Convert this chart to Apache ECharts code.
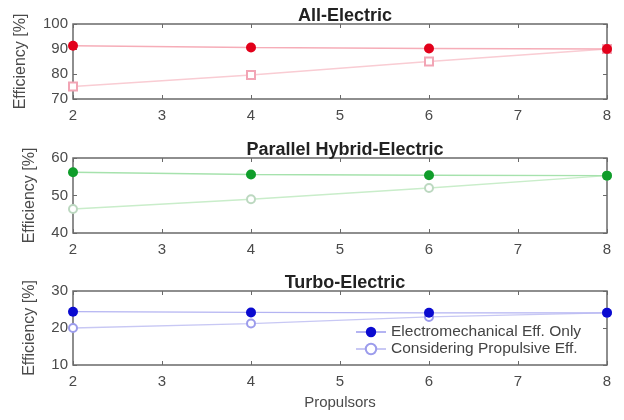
<!DOCTYPE html>
<html><head><meta charset="utf-8">
<script src="https://cdn.jsdelivr.net/npm/echarts@6/dist/echarts.min.js"></script>
<style>html,body{margin:0;padding:0;background:#fff}#c{width:624px;height:420px}</style>
</head><body><div id="c"></div>
<script>
const propulsors = [2, 4, 6, 8];
const titles = ['All-Electric', 'Parallel Hybrid-Electric', 'Turbo-Electric'];
const allElecEM = [91.3, 90.6, 90.2, 90.0];
const allElecProp = [75.0, 79.6, 85.0, 90.0];
const hybridEM = [56.2, 55.6, 55.4, 55.3];
const hybridProp = [46.4, 49.0, 52.0, 55.3];
const turboEM = [24.4, 24.2, 24.1, 24.1];
const turboProp = [20.0, 21.2, 23.0, 24.1];
const yMins = [70, 40, 10];
const yMaxs = [100, 60, 30];
const yIntervals = [10, 10, 10];
const legendNames = ['Electromechanical Eff. Only', 'Considering Propulsive Eff.'];

const font = 'Liberation Sans, Arial, Helvetica, sans-serif';
const axisCol = '#6a6a6a';
const textCol = '#4a4a4a';
const grids = [
  {left: 73, width: 534, top: 24, height: 75},
  {left: 73, width: 534, top: 158, height: 75},
  {left: 73, width: 534, top: 291, height: 74}
];
const nameGaps = [44, 35, 35];

const xAxes = [], yAxes = [], series = [], titleOpts = [];
const sets = [
  {em: allElecEM, pr: allElecProp, dark: '#e2001a', line: '#f6adb8', light: '#f9ccd3', lightSym: '#f2a5b5', sym: 'emptyRect'},
  {em: hybridEM, pr: hybridProp, dark: '#0f9d2a', line: '#a6e2ad', light: '#c9edca', lightSym: '#bcd8c0', sym: 'emptyCircle'},
  {em: turboEM, pr: turboProp, dark: '#0a0ad0', line: '#b4b4f2', light: '#c8c8f4', lightSym: '#9c9cec', sym: 'emptyCircle'}
];
grids.forEach((g, i) => {
  g.show = true; g.borderColor = axisCol; g.borderWidth = 1.5; g.backgroundColor = '#fff';
  titleOpts.push({text: titles[i], left: g.left + g.width / 2, textAlign: 'center', top: g.top - 22,
    textStyle: {fontFamily: font, fontSize: 18, fontWeight: 'bold', color: '#222'}});
  const xBase = {type: 'value', gridIndex: i, min: 2, max: 8, interval: 1, splitLine: {show: false},
    axisLine: {show: false}, axisTick: {inside: true, length: 4, lineStyle: {color: axisCol}}};
  xAxes.push(Object.assign({}, xBase, {position: 'bottom',
    axisLabel: {fontFamily: font, fontSize: 15, color: textCol, margin: 9},
    name: i === 2 ? 'Propulsors' : '', nameLocation: 'middle', nameGap: 30,
    nameTextStyle: {fontFamily: font, fontSize: 15, color: textCol}}));
  xAxes.push(Object.assign({}, xBase, {position: 'top', axisLabel: {show: false}}));
  const yBase = {type: 'value', gridIndex: i, min: yMins[i], max: yMaxs[i], interval: yIntervals[i], splitLine: {show: false},
    axisLine: {show: false}, axisTick: {inside: true, length: 4, lineStyle: {color: axisCol}}};
  yAxes.push(Object.assign({}, yBase, {position: 'left',
    axisLabel: {fontFamily: font, fontSize: 15, color: textCol, margin: 5},
    name: 'Efficiency [%]', nameLocation: 'middle', nameGap: nameGaps[i], nameRotate: 90,
    nameTextStyle: {fontFamily: font, fontSize: 16, color: textCol}}));
  yAxes.push(Object.assign({}, yBase, {position: 'right', axisLabel: {show: false}}));
  const s = sets[i];
  series.push({name: i === 2 ? legendNames[0] : 'em' + i, type: 'line', xAxisIndex: 2 * i, yAxisIndex: 2 * i,
    data: propulsors.map((p, k) => [p, s.em[k]]), symbol: 'circle', symbolSize: 10,
    itemStyle: {color: s.dark}, lineStyle: {color: s.line, width: 1.3}, z: 3, animation: false});
  series.push({name: i === 2 ? legendNames[1] : 'pr' + i, type: 'line', xAxisIndex: 2 * i, yAxisIndex: 2 * i,
    data: propulsors.map((p, k) => [p, s.pr[k]]), symbol: s.sym, symbolSize: 8,
    itemStyle: {color: s.lightSym, borderWidth: 1.2}, lineStyle: {color: s.light, width: 1.3}, z: 2, animation: false});
});

const chart = echarts.init(document.getElementById('c'), null, {renderer: 'canvas'});
chart.setOption({
  animation: false,
  backgroundColor: '#fff',
  title: titleOpts,
  grid: grids,
  xAxis: xAxes,
  yAxis: yAxes,
  legend: {data: legendNames, orient: 'vertical', left: 350, top: 322, itemGap: 1, itemWidth: 30, itemHeight: 13,
    backgroundColor: '#fff', padding: [2, 8, 2, 5], borderWidth: 0, z: 10,
    textStyle: {fontFamily: font, fontSize: 15.5, color: '#444'}},
  series: series
});
</script></body></html>
